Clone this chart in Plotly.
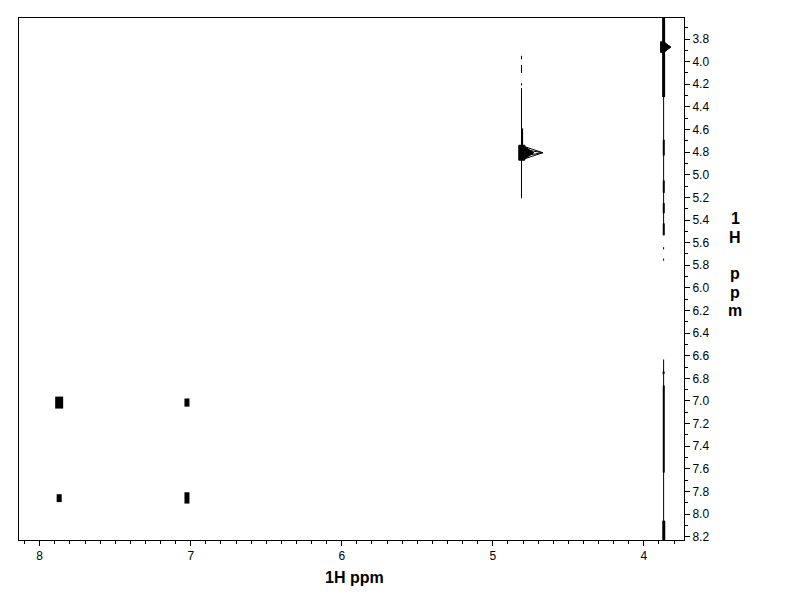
import plotly.graph_objects as go

# ---------------- data (ppm) ----------------
# aromatic contour peaks (F2 = x, F1 = y)
peak_f2 = [7.871, 7.025, 7.871, 7.025]
peak_f1 = [7.014, 7.014, 7.859, 7.857]
peak_half_h = [0.053, 0.036, 0.035, 0.050]
peak_width_px = [8, 5, 5, 5]

# peaks with a tail toward low ppm
tail_f1 = [4.805, 3.871]
tail_core_left = [4.828, 3.889]
tail_core_right = [4.788, 3.869]
tail_tip = [4.669, 3.823]
tail_core_h = [0.066, 0.047]
tail_h = [0.053, 0.047]
tail_solid_frac = [0.5, 1.0]

# t1-noise streaks: f2, f1 start, f1 end, line width
streak_f2 = [4.810, 4.810, 4.810, 4.810, 4.806,
             3.869, 3.869, 3.868, 3.868, 3.868, 3.868, 3.869, 3.869,
             3.869, 3.868, 3.869, 3.868]
streak_y0 = [3.948, 4.030, 4.190, 4.234, 4.590,
             3.614, 4.313, 4.690, 5.050, 5.250, 5.430, 5.640, 5.740,
             6.633, 6.863, 6.740, 8.058]
streak_y1 = [3.980, 4.100, 4.210, 5.208, 4.750,
             4.313, 5.535, 4.830, 5.160, 5.340, 5.535, 5.660, 5.760,
             8.236, 7.633, 6.760, 8.236]
streak_w = [1, 1, 1, 1, 2,
            3, 1, 2, 2, 2, 2, 1, 1,
            1, 2, 2, 3]

x_range = [8.137, 3.734]
y_range = [8.229, 3.614]

x_title = "1H ppm"
y_title_lines = ["1", "H", "", "p", "p", "m"]

fig = go.Figure()

for x, y0, y1, w in zip(streak_f2, streak_y0, streak_y1, streak_w):
    fig.add_trace(go.Scatter(x=[x, x], y=[y0, y1], mode="lines",
                             line=dict(color="black", width=w),
                             hoverinfo="skip", showlegend=False))

for x, y, h, w in zip(peak_f2, peak_f1, peak_half_h, peak_width_px):
    fig.add_trace(go.Scatter(x=[x, x], y=[y - h, y + h], mode="lines",
                             line=dict(color="black", width=w),
                             hoverinfo="skip", showlegend=False))

for y, cl, cr, tip, ch, th, sf in zip(tail_f1, tail_core_left, tail_core_right,
                                       tail_tip, tail_core_h, tail_h, tail_solid_frac):
    fig.add_trace(go.Scatter(x=[cl, cr, cr, cl, cl], y=[y - ch, y - ch, y + ch, y + ch, y - ch],
                             mode="lines", fill="toself", fillcolor="black",
                             line=dict(color="black", width=1),
                             hoverinfo="skip", showlegend=False))
    fig.add_trace(go.Scatter(x=[cr, tip, cr], y=[y - th, y, y + th], mode="lines",
                             line=dict(color="black", width=1),
                             hoverinfo="skip", showlegend=False))
    fig.add_trace(go.Scatter(x=[cr, tip, cr], y=[y - th * 0.5, y, y + th * 0.5], mode="lines",
                             line=dict(color="black", width=1),
                             hoverinfo="skip", showlegend=False))
    fig.add_trace(go.Scatter(x=[cr, cr + (tip - cr) * sf, cr], y=[y - th, y, y + th], mode="lines",
                             fill="toself", fillcolor="black",
                             line=dict(color="black", width=1),
                             hoverinfo="skip", showlegend=False))

tick_font = dict(family="Liberation Sans, Arial", size=12, color="black")
title_font = dict(family="Liberation Sans, Arial", size=16, color="black")

# page body adds an 8 px offset, so the figure is sized 784x604
W, H = 784, 604
ML, MR, MT, MB = 11, 108, 10, 72
plot_h = H - MT - MB

annotations = [
    dict(text="<b>%s</b>" % x_title, xref="paper", yref="paper", x=0.505, y=-0.071,
         xanchor="center", yanchor="middle", showarrow=False, font=title_font),
]
line_step = 18.3
first_center = 211  # px from figure top
for i, ch in enumerate(y_title_lines):
    if not ch:
        continue
    ypix = first_center + i * line_step
    annotations.append(dict(text="<b>%s</b>" % ch, xref="paper", yref="paper",
                            x=1.0767, y=1 - (ypix - MT) / plot_h,
                            xanchor="center", yanchor="middle", showarrow=False,
                            font=title_font))

fig.update_layout(
    width=W, height=H,
    margin=dict(l=ML, r=MR, t=MT, b=MB),
    paper_bgcolor="white", plot_bgcolor="white",
    font=tick_font,
    xaxis=dict(range=x_range, showgrid=False, zeroline=False,
               showline=True, mirror=True, linecolor="black", linewidth=1,
               ticks="outside", ticklen=5, tickcolor="black", dtick=1, tick0=0,
               minor=dict(ticks="outside", ticklen=3, dtick=0.1, tickcolor="black", showgrid=False),
               tickfont=tick_font),
    yaxis=dict(range=y_range, side="right", showgrid=False, zeroline=False,
               showline=True, mirror=True, linecolor="black", linewidth=1,
               ticks="outside", ticklen=5, tickcolor="black", dtick=0.2, tick0=0,
               tickformat=".1f",
               minor=dict(ticks="outside", ticklen=3, dtick=0.1, tickcolor="black", showgrid=False),
               tickfont=tick_font),
    annotations=annotations,
)

fig.write_html("out.html")
